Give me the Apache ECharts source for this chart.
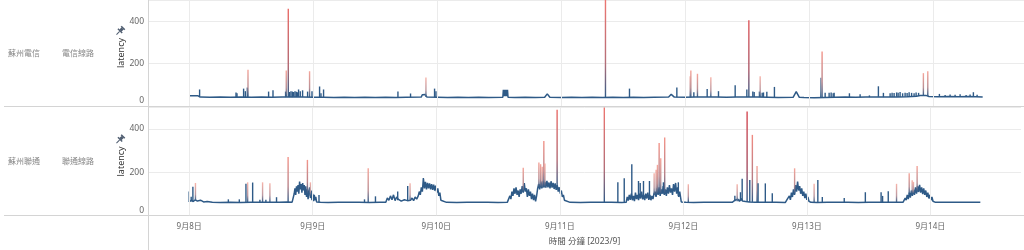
<!DOCTYPE html>
<html><head><meta charset="utf-8">
<script src="https://cdn.jsdelivr.net/npm/echarts@6/dist/echarts.min.js"></script>
<style>html,body{margin:0;padding:0;background:#fff}#c{width:1024px;height:250px}</style>
</head><body><div id="c"></div><script>
// x values: hours since 2023-09-08 00:00
const dayTicks = [0, 24, 48, 72, 96, 120, 144];
const dayLabels = ['9月8日', '9月9日', '9月10日', '9月11日', '9月12日', '9月13日', '9月14日'];
const rowLabels = [['蘇州電信', '電信線路'], ['蘇州聯通', '聯通線路']];
const yTicks = [0, 200, 400];
const xTitle = '時間 分鐘 [2023/9]';
const yTitle = 'latency';

// 蘇州電信 baseline line [hour, latency]
const telecomLine = [
[0,48],[1.7,48],[2.1,42],[4,41],[6,42],[8,41],[10,42],[12,41],[14,42],[16,41],[18,42],[20,43],[22,42],[24,41],[26,41],[28,40],[30,41],[32,40],[34,41],[36,40],[38,41],[40,40],[42,41],[44.9,42],[45.1,53],[45.7,54],[46,42],[48,41],[50,40],[52,41],[54,40],[56,41],[58,40],[60.7,41],[60.8,76],[60.9,46],[61.0,76],[61.1,46],[61.2,76],[61.3,46],[61.4,76],[61.5,46],[61.6,76],[61.7,41],[63,40],[65,41],[67,40],[68.8,41],[69.3,57],[69.8,41],[72,40],[74,41],[76,40],[78,41],[80,40],[82,41],[84,40],[86,41],[88,40],[90,41],[92.8,42],[93.3,55],[93.9,42],[96,41],[98,42],[100,43],[102,42],[104,41],[106,42],[108,43],[110,42],[112,41],[114,40],[116.9,41],[117.5,68],[118.1,41],[119,40],[121,39],[123,40],[125,41],[127,42],[129,41],[131,42],[133,43],[135,42],[137,43],[139,44],[140.8,46],[141.5,50],[142.6,50],[143.2,45],[145,44],[147,45],[149,44],[151,45],[153.6,42]
];
// 蘇州電信 spikes [hour, foot, peak, lossLevel]
const telecomSpikes = [
[1.99,47,78,0],[9.04,42,64,0],[9.23,42,60,0],[10.51,42,82,0],[10.84,42,70,0],[11.23,42,87,0],[11.36,42,171,0.5],[15.35,42,68,0],[16.2,41,74,0],
[18.64,42,68,0],[18.77,42,167,0.5],[19.16,42,459,0.75],[19.41,42,66,0],[19.68,42,70,0],[19.94,42,68,0],[20.19,43,66,0],[20.46,43,69,0],[20.71,43,67,0],[20.96,43,65,0],[21.15,43,78,0],[21.48,43,70,0],[21.93,42,74,0],
[22.9,42,68,0],[23.28,42,164,0.5],[23.75,41,70,0],[25.22,41,92,0],[25.49,41,60,0],[25.99,41,78,0],[40.39,40,68,0],[42.83,41,59,0],[45.81,42,135,0.45],[47.48,41,82,0],[47.75,41,70,0],
[80.57,40,510,0.7],[85.22,40,82,0],[94.39,41,87,0],[96.97,41,140,0.45],[97.1,41,167,0.5],[97.68,42,65,0],[98.38,42,152,0.5],[100.26,43,80,0],[100.97,43,136,0.45],[102.45,42,70,0],[105.68,42,98,0],
[107.94,43,78,0],[108.33,43,405,0.85],[109.1,43,68,0],[109.36,43,66,0],[110.38,42,68,0],[110.52,42,140,0.45],[110.91,42,62,0],[111.16,42,64,0],[111.81,41,67,0],[113.28,41,90,0],
[122.26,40,133,0.2],[122.51,40,257,0.55],[123.1,40,63,0],[123.87,40,62,0],[124.26,40,64,0],[124.65,41,60,0],[124.84,41,62,0],[127.8,42,60,0],[129.87,41,55,0],[131.67,42,50,0],[133.41,43,93,0],[134.38,42,62,0],
[135.68,42,60,0],[136.06,42,63,0],[136.45,42,61,0],[136.94,43,64,0],[137.23,43,62,0],[137.61,43,66,0],[138.1,43,60,0],[138.58,44,63,0],[138.97,44,61,0],[139.36,44,65,0],[139.84,45,62,0],[140.32,45,60,0],[140.71,46,64,0],[141.19,48,62,0],
[142.12,50,155,0.5],[142.97,47,164,0.5],[145.22,44,57,0],[146.33,44,52,0],[147.29,45,54,0],[148.26,44,53,0],[149.23,44,55,0],[150.39,45,52,0],[151.16,45,54,0],[151.8,44,65,0],[152.52,44,53,0]
];

// 蘇州聯通 baseline line [hour, latency]
const unicomLine = [
[0,62],[0.4,70],[0.8,64],[1.2,72],[1.6,66],[2.2,70],[2.8,62],[3.5,64],[4.5,60],[6,59],[8,60],[10,59],[12,60],[14,61],[16,60],[17.5,61],[19,62],[20,61],
[20.2,62],[20.4,100],[20.55,125],[20.7,95],[20.85,135],[21.0,110],[21.15,140],[21.3,100],[21.45,156],[21.6,120],[21.75,145],[21.9,105],[22.05,150],[22.2,115],[22.35,140],[22.5,95],[22.65,135],[22.8,85],[22.95,120],[23.1,75],[23.25,110],[23.4,130],[23.55,80],[23.7,115],[23.85,70],[24.0,100],[24.15,65],[24.3,95],[24.45,70],[24.6,85],[24.75,62],
[25.5,60],[27,59],[29,60],[31,61],[33,60],[35,59],[37,60],
[38.2,60],[38.5,80],[38.8,70],[39.1,90],[39.4,72],[39.7,95],[40.0,68],[40.3,85],[40.6,75],[40.9,70],[41.2,66],[41.5,64],[41.8,72],[42.1,66],[42.4,68],[42.7,64],[43.0,70],[43.3,80],[43.6,68],[43.9,85],[44.2,75],[44.5,90],
[44.7,110],[44.9,95],[45.1,130],[45.3,110],[45.5,173],[45.7,125],[45.9,155],[46.1,120],[46.3,150],[46.5,125],[46.7,148],[46.9,120],[47.1,145],[47.3,118],[47.5,142],[47.7,115],[47.9,138],[48.1,105],[48.3,125],[48.5,90],[48.7,105],[48.9,70],[49.2,62],
[50,60],[52,59],[54,60],[56,61],[58,60],[60,59],[61.8,60],
[62.0,62],[62.3,90],[62.5,75],[62.7,110],[62.9,90],[63.1,125],[63.3,100],[63.5,130],[63.7,95],[63.9,115],[64.1,85],[64.3,120],[64.5,100],[64.7,135],[64.9,105],[65.1,149],[65.3,110],[65.5,125],[65.7,85],[65.9,120],[66.1,90],[66.3,110],[66.5,75],[66.7,100],[66.9,70],[67.1,95],[67.3,65],[67.5,90],
[67.7,125],[67.9,145],[68.1,120],[68.3,158],[68.5,125],[68.7,160],[68.9,130],[69.1,155],[69.3,128],[69.5,160],[69.7,130],[69.9,152],[70.1,125],[70.3,158],[70.5,128],[70.7,150],[70.9,122],[71.1,148],[71.3,118],[71.5,140],[71.7,110],[71.9,130],[72.1,100],[72.3,115],[72.5,85],[72.7,95],[72.9,70],[73.1,62],
[74,60],[76,59],[78,60],[80,61],[82,60],[84,59],[84.9,60],
[85.1,85],[85.3,68],[85.5,95],[85.7,72],[85.9,100],[86.1,70],[86.3,90],[86.5,66],[86.7,105],[86.9,75],[87.1,95],[87.3,70],[87.5,100],[87.7,78],[87.9,110],[88.1,74],[88.3,95],[88.5,70],[88.7,100],[88.9,78],[89.1,105],[89.3,72],[89.5,95],[89.7,70],[89.9,90],[90.1,75],[90.3,100],
[90.5,110],[90.7,85],[90.9,125],[91.1,95],[91.3,130],[91.5,90],[91.7,120],[91.9,100],[92.1,135],[92.3,95],[92.5,120],[92.7,90],[92.9,130],[93.1,100],[93.3,140],[93.5,105],[93.7,125],[93.9,95],[94.1,145],[94.3,110],[94.5,150],[94.7,100],[94.9,130],[95.1,85],[95.3,110],[95.6,62],
[96.5,60],[98,59],[100,60],[102,61],[104,60],[105.5,60],[106,70],[106.3,64],[106.6,75],[106.9,65],[107.2,78],[107.5,66],[107.8,72],[108.1,64],[108.4,70],[108.8,62],[110,60],[112,61],[114,60],[115.8,59],
[116.0,62],[116.2,75],[116.4,68],[116.6,90],[116.8,72],[117.0,105],[117.2,85],[117.4,120],[117.6,95],[117.8,140],[118.0,110],[118.2,156],[118.4,115],[118.6,135],[118.8,100],[119.0,125],[119.2,90],[119.4,110],[119.6,80],[119.8,100],[120.0,72],[120.2,85],[120.4,65],[120.6,72],[120.8,60],
[122,59],[124,60],[126,61],[128,60],[130,59],[132,60],[134,61],[136,60],[138.7,61],
[138.9,62],[139.1,80],[139.3,70],[139.5,95],[139.7,75],[139.9,105],[140.1,82],[140.3,115],[140.5,90],[140.7,120],[140.9,95],[141.1,130],[141.3,100],[141.5,135],[141.7,108],[141.9,141],[142.1,105],[142.3,130],[142.5,98],[142.7,125],[142.9,95],[143.1,115],[143.3,85],[143.5,105],[143.7,78],[143.9,95],[144.1,70],[144.3,85],[144.5,65],[144.7,72],[145.0,60],
[146.5,60],[148,61],[150,60],[152,61],[153.7,60]
];
// 蘇州聯通 spikes [hour, foot, peak, lossLevel]
const unicomSpikes = [
[0.0,62,110,0],[0.39,64,86,0],[0.72,64,133,0],[1.22,68,150,0.45],[7.61,60,74,0],[9.74,59,74,0],[11.03,60,146,0],[11.36,60,153,0.45],[12.33,60,152,0],[13.74,60,72,0],[14.26,61,153,0.45],[14.9,60,72,0],[15.68,60,149,0.45],[16.97,61,84,0],
[19.22,62,270,0.55],[22.97,100,257,0.55],[23.55,90,153,0.45],[25.22,60,94,0],[34.06,59,74,0],[34.78,60,218,0.5],[36.19,60,88,0],[40.51,70,110,0],[42.45,68,136,0],[42.91,66,149,0.45],
[64.9,110,221,0.5],[67.94,130,245,0.5],[68.27,130,237,0.5],[68.58,128,225,0.5],[68.9,130,345,0.55],[69.1,130,240,0.5],[71.48,130,490,0.75],
[80.65,60,510,0.7],[83.28,60,153,0],[84.52,60,172,0],[85.99,80,237,0],[87.29,80,159,0],[87.62,80,150,0],[88.26,80,159,0],[89.42,80,159,0],
[90.33,95,195,0.45],[90.72,95,211,0.5],[90.97,100,234,0.5],[91.3,100,335,0.55],[91.61,100,265,0.5],[92.13,100,153,0],[92.38,100,361,0.55],[95.03,90,153,0],[96.97,60,144,0.45],
[106.01,65,91,0],[106.46,65,144,0.45],[107.1,66,107,0],[107.43,66,169,0],[108.39,66,482,0.95],[108.91,62,164,0],[109.41,62,373,0.6],[110.32,60,229,0.5],[110.52,60,149,0],[111.93,61,148,0],[113.28,60,102,0],
[117.62,100,218,0.5],[121.41,59,146,0.45],[122.13,59,164,0],[123.0,60,85,0],[127.26,60,80,0],[131.36,59,107,0],[134.42,61,107,0],[134.71,61,90,0],[135.81,60,112,0],[137.42,60,146,0.45],
[139.88,100,195,0.5],[140.46,100,163,0.45],[140.71,100,155,0.45],[141.42,110,229,0.5]
];

const BLUE = '#2e5a87';
const FONT = '"Noto Sans","Noto Sans CJK TC",sans-serif';
const tipStops = [[0, BLUE], [0.2, '#8494ab'], [0.45, '#f8b4aa'], [0.55, '#f4958a'], [0.75, '#ea6c68'], [1, '#d1404c']];
function tipColor(l) {
  if (l <= 0) return BLUE;
  for (let i = 1; i < tipStops.length; i++) {
    if (l <= tipStops[i][0]) {
      const a = tipStops[i - 1], b = tipStops[i];
      return echarts.color.lerp((l - a[0]) / (b[0] - a[0]), [a[1], b[1]]);
    }
  }
  return tipStops[tipStops.length - 1][1];
}
function spikeItem(params, api) {
  const x = api.value(0);
  const a = api.coord([x, api.value(1)]);
  const b = api.coord([x, api.value(2)]);
  const cs = params.coordSys;
  const top = Math.max(b[1], cs.y);
  const tip = tipColor(api.value(3));
  const stroke = tip === BLUE ? BLUE : new echarts.graphic.LinearGradient(0, a[1], 0, top, [
    {offset: 0, color: BLUE},
    {offset: 0.35, color: echarts.color.lerp(0.7, [BLUE, tip])},
    {offset: 1, color: tip}], true);
  return {type: 'line', shape: {x1: a[0], y1: a[1], x2: b[0], y2: top}, style: {stroke: stroke, lineWidth: 1.4}};
}

const chart = echarts.init(document.getElementById('c'), null, {renderer: 'canvas'});
function xAxisCfg(i, showLabels) {
  return {
    gridIndex: i, type: 'value', min: -8, max: 161.6, interval: 8,
    axisLine: {show: false}, axisTick: {show: false}, splitLine: {show: false},
    axisLabel: {show: showLabels, color: '#666', fontSize: 8, margin: 7, fontFamily: FONT,
      formatter: v => { const k = dayTicks.indexOf(v); return k >= 0 ? dayLabels[k] : ''; }},
    name: showLabels ? xTitle : '', nameLocation: 'middle', nameGap: 22, nameMoveOverlap: false,
    nameTextStyle: {color: '#555', fontSize: 8.5, fontFamily: FONT}
  };
}
function yAxisCfg(i) {
  return {
    gridIndex: i, type: 'value', min: 0, max: 500, interval: 200,
    axisLine: {show: false}, axisTick: {show: false},
    splitLine: {lineStyle: {color: '#ebebeb', width: 1}},
    axisLabel: {color: '#666', fontSize: 8.5, margin: 4, fontFamily: FONT,
      formatter: v => v === 0 ? '{z|0}' : (yTicks.indexOf(v) >= 0 ? String(v) : ''),
      rich: {z: {padding: [0, 0, 10, 0], fontSize: 8.5, color: '#666', fontFamily: FONT}}},
    name: yTitle, nameLocation: 'middle', nameRotate: 90, nameGap: 22, nameMoveOverlap: false,
    nameTextStyle: {color: '#333', fontSize: 9, fontFamily: FONT}
  };
}
function pin(x, y) {
  return {type: 'group', x: x, y: y, rotation: -Math.PI / 4, children: [
    {type: 'rect', shape: {x: -2.5, y: -5, width: 5, height: 1.6}, style: {fill: '#4f5d70'}},
    {type: 'rect', shape: {x: -1.5, y: -3.6, width: 3, height: 3}, style: {fill: '#4f5d70'}},
    {type: 'rect', shape: {x: -3, y: -0.8, width: 6, height: 1.4}, style: {fill: '#4f5d70'}},
    {type: 'line', shape: {x1: 0, y1: 0.5, x2: 0, y2: 5}, style: {stroke: '#4f5d70', lineWidth: 1}}
  ]};
}
const gridLineMark = {
  silent: true, symbol: ['none', 'none'], label: {show: false},
  lineStyle: {color: '#ebebeb', type: 'solid', width: 1}, emphasis: {disabled: true},
  data: dayTicks.map(v => ({xAxis: v}))
};
const lineSeries = (i, data) => ({
  type: 'line', xAxisIndex: i, yAxisIndex: i, data: data, symbol: 'none', showSymbol: false,
  lineStyle: {color: BLUE, width: 1.5}, z: 3, silent: true
});
const spikeSeries = (i, data) => ({
  type: 'custom', xAxisIndex: i, yAxisIndex: i, data: data, renderItem: spikeItem,
  encode: {x: 0, y: [1, 2]}, z: 4, silent: true
});
const option = {
  animation: false,
  textStyle: {fontFamily: FONT},
  grid: [
    {left: 148, right: 0, top: -1, height: 107},
    {left: 148, right: 0, top: 107.5, height: 107.8}
  ],
  xAxis: [xAxisCfg(0, false), xAxisCfg(1, true)],
  yAxis: [yAxisCfg(0), yAxisCfg(1)],
  series: [
    {type: 'line', xAxisIndex: 0, yAxisIndex: 0, data: [], markLine: gridLineMark, z: 1, silent: true},
    {type: 'line', xAxisIndex: 1, yAxisIndex: 1, data: [], markLine: gridLineMark, z: 1, silent: true},
    lineSeries(0, telecomLine), lineSeries(1, unicomLine),
    spikeSeries(0, telecomSpikes), spikeSeries(1, unicomSpikes)
  ],
  graphic: [
    {type: 'line', shape: {x1: 4, y1: 106.5, x2: 1024, y2: 106.5}, style: {stroke: '#d4d4d4', lineWidth: 1}, z: 5},
    {type: 'line', shape: {x1: 4, y1: 215.5, x2: 1024, y2: 215.5}, style: {stroke: '#d4d4d4', lineWidth: 1}, z: 5},
    {type: 'line', shape: {x1: 148.5, y1: 0, x2: 148.5, y2: 250}, style: {stroke: '#d4d4d4', lineWidth: 1}, z: 5},
    {type: 'text', style: {x: 8, y: 53.5, text: rowLabels[0][0], fill: '#888', font: '8px ' + FONT, verticalAlign: 'middle'}},
    {type: 'text', style: {x: 62, y: 53.5, text: rowLabels[0][1], fill: '#888', font: '8px ' + FONT, verticalAlign: 'middle'}},
    {type: 'text', style: {x: 8, y: 162, text: rowLabels[1][0], fill: '#888', font: '8px ' + FONT, verticalAlign: 'middle'}},
    {type: 'text', style: {x: 62, y: 162, text: rowLabels[1][1], fill: '#888', font: '8px ' + FONT, verticalAlign: 'middle'}},
    pin(120, 31), pin(120, 139.5)
  ]
};
chart.setOption(option);
</script></body></html>
